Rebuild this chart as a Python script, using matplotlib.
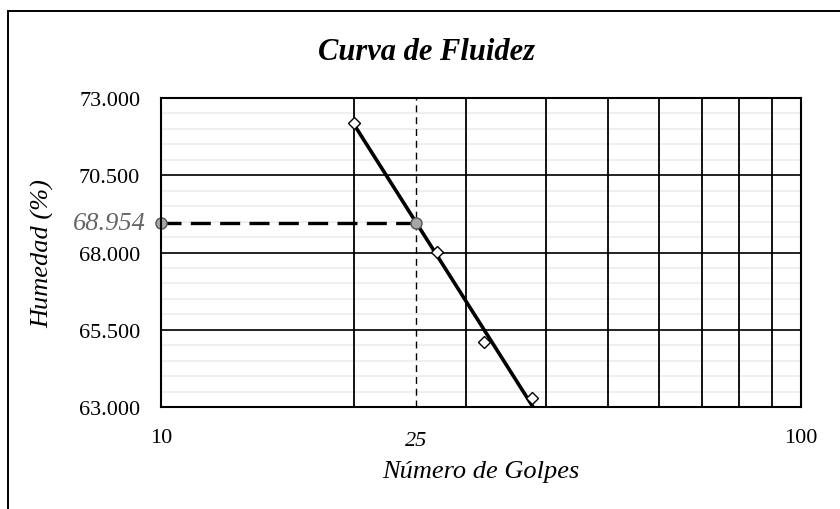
import numpy as np
import matplotlib.pyplot as plt
from matplotlib.ticker import FixedLocator, NullFormatter
from matplotlib.patches import Rectangle

# ensayo de limite liquido (Casagrande)
golpes = [20, 27, 32, 38]
humedad = [72.2, 68.03, 65.09, 63.28]
n_ref = 25
humedad_ref = 68.954

y_ticks = [63.0, 65.5, 68.0, 70.5, 73.0]
x_ticks = [10, 100]
x_lineas = [20, 30, 40, 50, 60, 70, 80, 90]

plt.rcParams['font.family'] = ['Liberation Serif', 'DejaVu Serif']

fig = plt.figure(figsize=(8.4, 5.1), dpi=100)
ax = fig.add_axes([161/840, 1-408/510, 640/840, 309/510])

ax.set_xscale('log')
ax.set_xlim(10, 100)
ax.set_ylim(63, 73)

# rejilla
for v in np.arange(63.5, 73, 0.5):
    ax.axhline(v, color='#eeeeee', lw=1.3, zorder=0)
for v in y_ticks:
    ax.axhline(v, color='black', lw=1.2, zorder=1)
for v in x_lineas:
    ax.axvline(v, color='black', lw=1.3, zorder=1)

# recta de ajuste humedad vs log(golpes)
m, b = np.polyfit(np.log10(golpes), humedad, 1)
xs = np.array([min(golpes), max(golpes) * 1.01])
ax.plot(xs, m*np.log10(xs) + b, color='black', lw=2.6, zorder=4)
ax.plot(golpes, humedad, ls='none', marker='D', ms=6, mfc='white', mec='black', mew=1, zorder=5)

# lectura a 25 golpes
ax.axvline(n_ref, color='black', lw=1, dashes=(5, 3.5), zorder=3)
ax.plot([10, n_ref], [humedad_ref, humedad_ref], color='black', lw=2.4, dashes=(6, 2.8), zorder=3)
ax.plot([10, n_ref], [humedad_ref, humedad_ref], ls='none', marker='o', ms=8,
        mfc='#a6a6a6', mec='#555555', mew=1, clip_on=False, zorder=6)

ax.xaxis.set_major_locator(FixedLocator(x_ticks))
ax.xaxis.set_minor_locator(FixedLocator(x_lineas))
ax.xaxis.set_major_formatter(plt.FuncFormatter(lambda v, p: '%d' % v))
ax.xaxis.set_minor_formatter(NullFormatter())
ax.yaxis.set_major_locator(FixedLocator(y_ticks))
ax.yaxis.set_major_formatter(plt.FuncFormatter(lambda v, p: '%.3f' % v))
ax.tick_params(which='both', length=0)
ax.tick_params(axis='x', pad=15, labelsize=16)
ax.tick_params(axis='y', pad=15, labelsize=16)
for s in ax.spines.values():
    s.set_linewidth(1.5)
    s.set_zorder(7)

ax.text(n_ref, (408-442)/309, '25', transform=ax.get_xaxis_transform(), ha='center', va='center',
        fontsize=16, style='italic')
ax.text(-(161-146)/640, humedad_ref, '%.3f' % humedad_ref, transform=ax.get_yaxis_transform(),
        ha='right', va='center', fontsize=19, style='italic', color='#666666')

ax.set_xlabel('Número de Golpes', fontsize=19, style='italic')
ax.xaxis.set_label_coords(0.5, (408-472)/309)
ax.xaxis.label.set_va('center')
ax.set_ylabel('Humedad (%)', fontsize=19, style='italic')
ax.yaxis.set_label_coords((43-161)/640, 0.5)
ax.yaxis.label.set_va('center')
fig.text(427/840, 1-52/510, 'Curva de Fluidez', ha='center', va='center',
         fontsize=22, fontweight='bold', style='italic')

fig.patches.append(Rectangle((8/840, -0.1), 1.2, 1 - 12/510 + 0.1, transform=fig.transFigure,
                             fill=False, ec='black', lw=1.4))

fig.savefig('out.png', dpi=100)
